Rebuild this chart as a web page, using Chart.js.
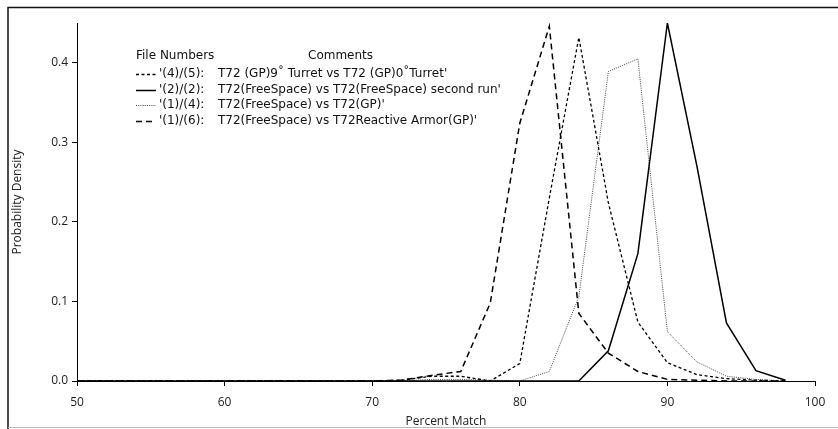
<!DOCTYPE html>
<html lang="en">
<head>
  <meta charset="UTF-8">
  <title>Probability Density vs Percent Match</title>
  <style>
    body {
      margin: 0;
      background-color: white;
    }
    .container {
      width: 838px;
      height: 429px;
      position: relative;
    }
  </style>
  <script src="https://cdn.jsdelivr.net/npm/chart.js"></script>
</head>
<body>
  <div class="container">
    <canvas id="matchChart" width="838" height="429"></canvas>
  </div>

  <script>
    // Percent match bins (x values)
    const percentMatch = [50, 52, 54, 56, 58, 60, 62, 64, 66, 68, 70, 72, 74, 76, 78, 80, 82, 84, 86, 88, 90, 92, 94, 96, 98];

    // '(4)/(5)' turret 9 vs 0
    const turretValues = [0, 0, 0, 0, 0, 0, 0, 0, 0, 0, 0, 0.001, 0.006, 0.006, 0.0, 0.022, 0.23, 0.432, 0.224, 0.074, 0.023, 0.008, 0.003, 0.001, 0];
    // '(2)/(2)' free space second run
    const freeSpaceValues = [0, 0, 0, 0, 0, 0, 0, 0, 0, 0, 0, 0, 0, 0, 0, 0, 0, 0, 0.038, 0.16, 0.45, 0.27, 0.073, 0.013, 0.001];
    // '(1)/(4)' free space vs GP
    const gpValues = [0, 0, 0, 0, 0, 0, 0, 0, 0, 0, 0, 0, 0.002, 0.002, 0.001, 0.0, 0.012, 0.106, 0.389, 0.405, 0.062, 0.024, 0.006, 0.002, 0];
    // '(1)/(6)' free space vs reactive armor
    const reactiveValues = [0, 0, 0, 0, 0, 0, 0, 0, 0, 0, 0, 0.001, 0.007, 0.012, 0.098, 0.324, 0.446, 0.085, 0.035, 0.012, 0.002, 0.001, 0, 0, 0];

    const fileNumbers = ["'(4)/(5):", "'(2)/(2):", "'(1)/(4):", "'(1)/(6):"];
    const comments = [
      "T72 (GP)9\u02da Turret vs T72 (GP)0\u02daTurret'",
      "T72(FreeSpace) vs T72(FreeSpace) second run'",
      "T72(FreeSpace) vs T72(GP)'",
      "T72(FreeSpace) vs T72Reactive Armor(GP)'"
    ];

    const toPoints = (vals) => vals.map((v, i) => ({ x: percentMatch[i], y: v }));

    const datasets = [
      { data: toPoints(turretValues), borderColor: '#000', borderWidth: 1.3, borderDash: [3, 2.5] },
      { data: toPoints(freeSpaceValues), borderColor: '#000', borderWidth: 1.5, borderDash: [] },
      { data: toPoints(gpValues), borderColor: '#444', borderWidth: 1, borderDash: [1, 1.2] },
      { data: toPoints(reactiveValues), borderColor: '#000', borderWidth: 1.5, borderDash: [6, 4] }
    ].map((d, i) => Object.assign(d, {
      label: fileNumbers[i],
      pointRadius: 0,
      tension: 0,
      fill: false
    }));

    // Frame lines and the two-column legend
    const decorPlugin = {
      id: 'decor',
      afterDraw(chart) {
        const c = chart.ctx;
        c.save();
        c.strokeStyle = '#111';
        c.lineWidth = 1.5;
        c.beginPath();
        c.moveTo(8, 429);
        c.lineTo(8, 7.5);
        c.lineTo(838, 7.5);
        c.stroke();
        c.strokeStyle = '#bbb';
        c.lineWidth = 1;
        c.beginPath();
        c.moveTo(8, 427.5);
        c.lineTo(838, 427.5);
        c.stroke();

        c.fillStyle = '#111';
        c.font = '12px "DejaVu Sans", sans-serif';
        c.textBaseline = 'middle';
        c.fillText('File Numbers', 136, 56);
        c.fillText('Comments', 308, 56);
        const rowY = [74, 90, 105, 121];
        chart.data.datasets.forEach((ds, i) => {
          c.strokeStyle = ds.borderColor;
          c.lineWidth = ds.borderWidth;
          c.setLineDash(ds.borderDash);
          c.beginPath();
          c.moveTo(136, rowY[i] + 0.5);
          c.lineTo(156, rowY[i] + 0.5);
          c.stroke();
          c.setLineDash([]);
          c.fillText(ds.label, 159, rowY[i]);
          c.fillText(comments[i], 218, rowY[i]);
        });
        c.restore();
      }
    };

    const ctx = document.getElementById('matchChart').getContext('2d');
    new Chart(ctx, {
      type: 'line',
      data: { datasets: datasets },
      options: {
        responsive: false,
        animation: false,
        layout: { padding: { left: 10, top: 23, right: 23, bottom: 0 } },
        plugins: {
          legend: { display: false },
          tooltip: { enabled: false }
        },
        scales: {
          x: {
            type: 'linear',
            min: 50,
            max: 100,
            ticks: { stepSize: 10, includeBounds: false, color: '#222', padding: 9, font: { family: 'Open Sans', size: 12 } },
            grid: { drawOnChartArea: false, drawTicks: true, tickLength: 5, color: '#000' },
            border: { color: '#000', width: 1 },
            title: { display: true, text: 'Percent Match', color: '#222', padding: { top: 0, bottom: 0 }, font: { family: 'Open Sans', size: 12 } },
            afterFit(scale) { scale.height = 48; }
          },
          y: {
            min: 0,
            max: 0.45,
            ticks: {
              stepSize: 0.1,
              includeBounds: false,
              color: '#222',
              padding: 4,
              font: { family: 'Open Sans', size: 12 },
              callback: (v) => v.toFixed(1)
            },
            grid: { drawOnChartArea: false, drawTicks: true, tickLength: 5, color: '#000' },
            border: { color: '#000', width: 1 },
            title: { display: true, text: 'Probability Density', color: '#222', padding: { top: 0, bottom: 2 }, font: { family: 'Open Sans', size: 12 } },
            afterFit(scale) { scale.width = 67; }
          }
        }
      },
      plugins: [decorPlugin]
    });
  </script>
</body>
</html>
